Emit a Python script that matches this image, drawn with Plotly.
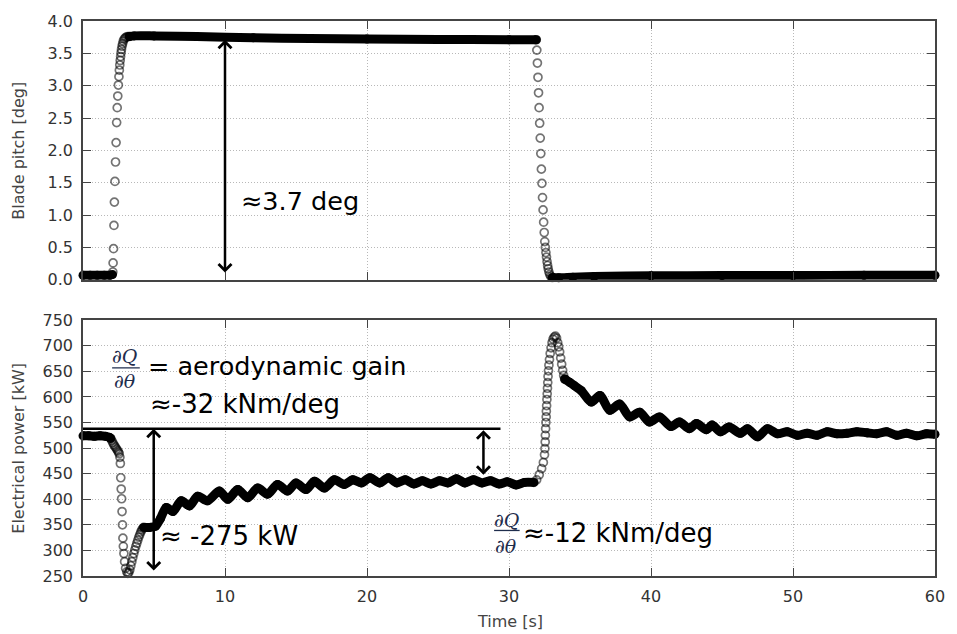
import plotly.graph_objects as go

# ---------------- Blade pitch [deg] (top panel) ----------------
pitch_pre_t = [0.0, 0.5, 1.0, 1.5, 1.9, 2.08]
pitch_pre = [0.07, 0.07, 0.07, 0.07, 0.07, 0.08]

pitch_rise_t = [2.10, 2.12, 2.15, 2.18, 2.21, 2.25, 2.29, 2.33, 2.37, 2.41, 2.45, 2.49, 2.53,
                2.56, 2.59, 2.62, 2.65, 2.68, 2.71, 2.75, 2.79, 2.84, 2.90, 2.97, 3.05, 3.15, 3.25]
pitch_rise = [0.12, 0.26, 0.48, 0.84, 1.20, 1.52, 1.82, 2.12, 2.43, 2.66, 2.84, 3.01, 3.14,
              3.24, 3.32, 3.39, 3.45, 3.51, 3.56, 3.61, 3.65, 3.69, 3.72, 3.74, 3.75, 3.76, 3.76]

pitch_hold_t = [3.25, 3.6, 5.0, 8.0, 12.0, 16.0, 20.0, 25.0, 30.0, 31.92]
pitch_hold = [3.76, 3.77, 3.77, 3.76, 3.74, 3.73, 3.72, 3.715, 3.71, 3.71]

pitch_fall_t = [31.92, 31.96, 32.00, 32.04, 32.08, 32.12, 32.16, 32.20, 32.24, 32.28, 32.32, 32.36,
                32.40, 32.44, 32.48, 32.52, 32.56, 32.60, 32.64, 32.68, 32.72, 32.76, 32.81,
                32.87, 32.95, 33.05]
pitch_fall = [3.71, 3.55, 3.35, 3.13, 2.89, 2.66, 2.42, 2.19, 1.95, 1.71, 1.49, 1.27,
              1.08, 0.89, 0.73, 0.59, 0.50, 0.42, 0.35, 0.28, 0.22, 0.17, 0.12,
              0.08, 0.05, 0.035]

pitch_post_t = [33.05, 33.5, 34.5, 36.0, 40.0, 45.0, 50.0, 55.0, 60.0]
pitch_post = [0.035, 0.03, 0.04, 0.05, 0.06, 0.065, 0.065, 0.07, 0.07]

# ---------------- Electrical power [kW] (bottom panel) ----------------
power_pre_t = [0.0, 0.4, 0.8, 1.2, 1.6, 1.85, 1.95]
power_pre = [524, 524, 523, 524, 523, 521, 519]

power_drop_t = [1.95, 2.02, 2.09, 2.16, 2.23, 2.30, 2.37, 2.44, 2.50, 2.55, 2.60, 2.63, 2.66,
                2.69, 2.72, 2.75, 2.78, 2.81, 2.84, 2.88, 2.93, 3.00, 3.08, 3.16, 3.23, 3.30,
                3.37, 3.44, 3.51, 3.58, 3.65, 3.72, 3.79, 3.86, 3.93, 4.00, 4.07, 4.14, 4.21, 4.28]
power_drop = [519, 515, 511, 507, 504, 501, 498, 495, 492, 489, 482, 470, 442,
              420, 401, 376, 350, 324, 308, 294, 278, 265, 258, 255, 257, 262,
              270, 278, 286, 294, 301, 308, 314, 320, 326, 331, 336, 340, 343, 345]

power_mid_t = [4.28, 4.7, 5.1, 5.45, 5.87, 6.33, 6.92, 7.5, 8.08, 8.78, 9.6, 10.2, 10.9, 11.6,
               12.3, 13.0, 13.7, 14.4, 15.0, 15.7, 16.3, 17.0, 17.7, 18.4, 19.0, 19.6, 20.2,
               20.9, 21.5, 22.1, 22.7, 23.3, 23.9, 24.5, 25.1, 25.7, 26.3, 26.9, 27.5, 28.1,
               28.7, 29.3, 29.9, 30.5, 31.1, 31.75]
power_mid = [345, 345, 347, 362, 384, 376, 397, 387, 406, 397, 416, 400, 419, 403,
             422, 410, 429, 416, 432, 419, 435, 422, 438, 429, 438, 432, 442,
             432, 442, 432, 438, 430, 436, 430, 436, 432, 440, 432, 438, 432,
             436, 430, 434, 428, 433, 433]

power_spike_t = [31.75, 31.95, 32.13, 32.30, 32.42, 32.50, 32.53, 32.55, 32.56, 32.58, 32.60,
                 32.62, 32.63, 32.65, 32.67, 32.69, 32.71, 32.73, 32.75, 32.78, 32.81, 32.85,
                 32.90, 32.96, 33.03, 33.10, 33.18, 33.27, 33.35, 33.43, 33.50, 33.57, 33.64,
                 33.71, 33.78, 33.85, 33.92]
power_spike = [433, 438, 448, 460, 472, 487, 499, 512, 525, 538, 550,
               561, 572, 583, 595, 606, 617, 628, 640, 651, 662, 673,
               685, 696, 706, 713, 717, 719, 715, 706, 698, 688, 676,
               664, 652, 642, 635]

power_post_t = [33.92, 34.3, 34.6, 35.1, 35.8, 36.4, 37.1, 37.8, 38.5, 39.2, 39.9, 40.6, 41.4,
                42.0, 42.7, 43.2, 43.9, 44.3, 44.9, 45.5, 46.3, 46.8, 47.5, 48.2, 48.9, 49.6,
                50.3, 51.0, 51.7, 52.4, 53.1, 53.8, 54.5, 55.2, 55.9, 56.6, 57.3, 58.0, 58.7,
                59.4, 60.0]
power_post = [635, 628, 622, 612, 590, 603, 574, 586, 561, 570, 551, 561, 542,
              551, 538, 548, 536, 545, 532, 541, 529, 538, 522, 538, 528, 532,
              525, 529, 525, 532, 528, 529, 532, 530, 528, 532, 525, 529, 524,
              528, 527]

# ---------------- axis ticks ----------------
time_ticks = [0, 10, 20, 30, 40, 50, 60]
pitch_ticks = [0.0, 0.5, 1.0, 1.5, 2.0, 2.5, 3.0, 3.5, 4.0]
power_ticks = [250, 300, 350, 400, 450, 500, 550, 600, 650, 700, 750]

fig = go.Figure()

BAND = dict(color="black", width=9, shape="spline", smoothing=0.8)
OPEN = dict(symbol="circle-open", size=8, color="rgba(0,0,0,0.55)", line=dict(width=1.7))


def steady(t, v, xa, ya):
    fig.add_trace(go.Scatter(x=t, y=v, mode="lines+markers", line=BAND,
                             marker=dict(size=9, color="black"),
                             xaxis=xa, yaxis=ya, cliponaxis=False, hoverinfo="skip"))


def transition(t, v, xa, ya):
    fig.add_trace(go.Scatter(x=t, y=v, mode="markers", marker=OPEN,
                             xaxis=xa, yaxis=ya, cliponaxis=False, hoverinfo="skip"))


steady(pitch_pre_t, pitch_pre, "x", "y")
steady(pitch_hold_t, pitch_hold, "x", "y")
steady(pitch_post_t, pitch_post, "x", "y")
transition(pitch_rise_t, pitch_rise, "x", "y")
transition(pitch_fall_t, pitch_fall, "x", "y")

steady(power_pre_t, power_pre, "x2", "y2")
steady(power_mid_t, power_mid, "x2", "y2")
steady(power_post_t, power_post, "x2", "y2")
transition(power_drop_t, power_drop, "x2", "y2")
transition(power_spike_t, power_spike, "x2", "y2")

AX = dict(showline=True, linecolor="#444", linewidth=1.5, mirror="ticks",
          ticks="inside", ticklen=8, tickcolor="#444", tickwidth=1.2,
          showgrid=True, gridcolor="#b8b8b8", griddash="1px,2px", gridwidth=1,
          zeroline=False, tickfont=dict(family="DejaVu Sans", size=16, color="#333"))

fig.update_layout(
    width=957, height=634,
    margin=dict(l=83, r=18, t=14, b=58),
    paper_bgcolor="white", plot_bgcolor="white",
    showlegend=False,
    font=dict(family="DejaVu Sans", color="black"),
    xaxis=dict(AX, domain=[0, 1], anchor="y", range=[0, 60], tickvals=time_ticks,
               showticklabels=False),
    yaxis=dict(AX, domain=[0.5338, 1], anchor="x", range=[0, 4.0], tickvals=pitch_ticks,
               ticktext=[f"{v:.1f}" for v in pitch_ticks], ticklabelstandoff=5),
    xaxis2=dict(AX, domain=[0, 1], anchor="y2", range=[0, 60], tickvals=time_ticks,
                ticktext=[str(v) for v in time_ticks], ticklabelstandoff=5),
    yaxis2=dict(AX, domain=[0, 0.4609], anchor="x2", range=[250, 750], tickvals=power_ticks,
                ticktext=[str(v) for v in power_ticks], ticklabelstandoff=5),
)

# axis titles
TITLE_FONT = dict(family="DejaVu Sans", size=16, color="#444")
fig.add_annotation(text="Blade pitch [deg]", xref="paper", yref="paper", x=-0.0759, y=0.767,
                   xanchor="center", yanchor="middle",
                   textangle=-90, showarrow=False, font=TITLE_FONT)
fig.add_annotation(text="Electrical power [kW]", xref="paper", yref="paper", x=-0.0759, y=0.230,
                   xanchor="center", yanchor="middle",
                   textangle=-90, showarrow=False, font=TITLE_FONT)
fig.add_annotation(text="Time [s]", xref="paper", yref="paper", x=0.501, y=-0.0819,
                   xanchor="center", yanchor="middle",
                   showarrow=False, font=TITLE_FONT)


def dbl_arrow(x, y0, y1, xa, ya):
    fig.add_annotation(x=x, y=y1, ax=x, ay=y0, xref=xa, yref=ya, axref=xa, ayref=ya,
                       text="", showarrow=True, arrowhead=4, startarrowhead=4,
                       arrowside="end+start", arrowsize=1, startarrowsize=1,
                       arrowwidth=2.5, arrowcolor="black", standoff=0, startstandoff=0)


BIG = dict(family="DejaVu Sans", size=25.5, color="black")
BIG2 = dict(family="DejaVu Sans", size=26, color="black")
FRAC = dict(family="DejaVu Serif", size=19, color="#1f2d4d")

# top panel annotation
dbl_arrow(10.0, 0.09, 3.71, "x", "y")
fig.add_annotation(text="≈3.7 deg", x=11.0, y=1.21, xref="x", yref="y", xanchor="left",
                   yanchor="middle", showarrow=False, font=BIG)

# bottom panel annotations
fig.add_shape(type="line", x0=0, x1=29.4, y0=538, y1=538, xref="x2", yref="y2",
              line=dict(color="black", width=2.5))
dbl_arrow(4.98, 258, 538, "x2", "y2")
dbl_arrow(28.2, 445, 535, "x2", "y2")

fig.add_annotation(text="<i>∂Q</i>", x=2.94, y=681, xref="x2", yref="y2", showarrow=False,
                   xanchor="center", yanchor="middle", font=FRAC)
fig.add_annotation(text="<i>∂θ</i>", x=2.94, y=631, xref="x2", yref="y2", showarrow=False,
                   xanchor="center", yanchor="middle", font=FRAC)
fig.add_shape(type="line", x0=2.05, x1=4.0, y0=657, y1=657, xref="x2", yref="y2",
              line=dict(color="#1f2d4d", width=1.3))
fig.add_annotation(text="= aerodynamic gain", x=4.45, y=660, xref="x2", yref="y2", xanchor="left",
                   yanchor="middle", showarrow=False, font=BIG)
fig.add_annotation(text="≈-32 kNm/deg", x=4.6, y=586, xref="x2", yref="y2", xanchor="left",
                   yanchor="middle", showarrow=False, font=BIG2)
fig.add_annotation(text="≈ -275 kW", x=5.3, y=329, xref="x2", yref="y2", xanchor="left",
                   yanchor="middle", showarrow=False, font=BIG2)

fig.add_annotation(text="<i>∂Q</i>", x=29.82, y=359, xref="x2", yref="y2", showarrow=False,
                   xanchor="center", yanchor="middle", font=FRAC)
fig.add_annotation(text="<i>∂θ</i>", x=29.82, y=309, xref="x2", yref="y2", showarrow=False,
                   xanchor="center", yanchor="middle", font=FRAC)
fig.add_shape(type="line", x0=28.95, x1=30.75, y0=339, y1=339, xref="x2", yref="y2",
              line=dict(color="#1f2d4d", width=1.3))
fig.add_annotation(text="≈-12 kNm/deg", x=30.85, y=335, xref="x2", yref="y2", xanchor="left",
                   yanchor="middle", showarrow=False, font=BIG2)

fig.write_html("out.html", config={"displayModeBar": False},
               post_script="document.body.style.margin='0px';")
